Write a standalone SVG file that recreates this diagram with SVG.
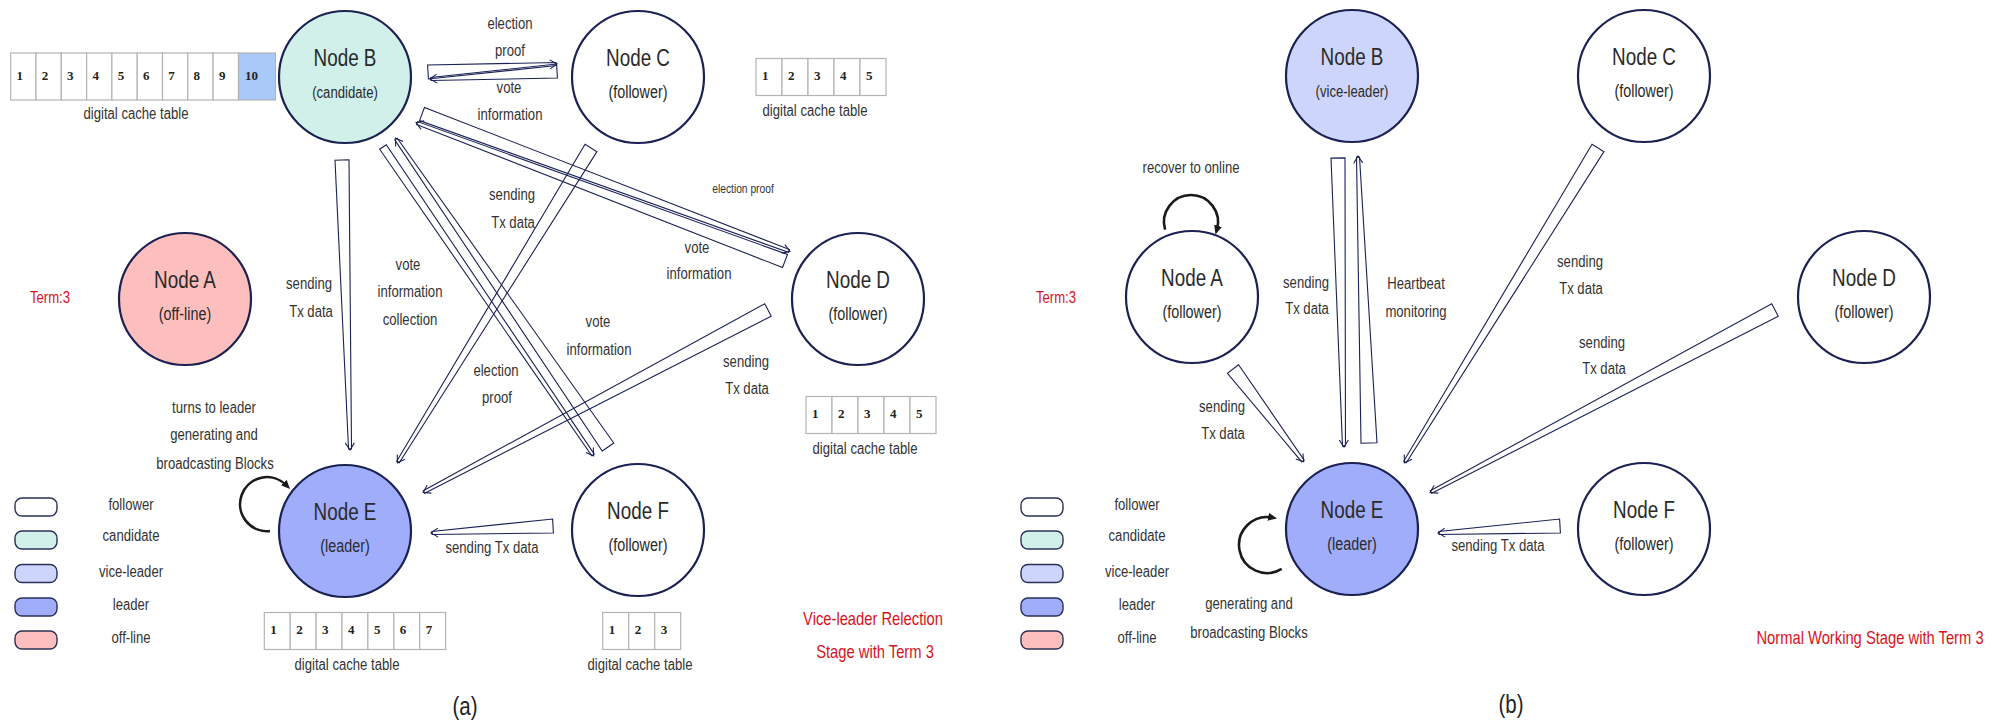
<svg xmlns="http://www.w3.org/2000/svg" width="2011" height="726" viewBox="0 0 2011 726">
<defs>
<style>
.t{font-family:"Liberation Sans",Arial,sans-serif;fill:#333;text-anchor:middle;font-size:16px}
.nm{font-size:23px;fill:#2a2a2a}
.rl{font-size:17.5px;fill:#2a2a2a}
.rs{font-size:16px;fill:#2a2a2a}
.red{fill:#d4141c}
.sm{font-size:12.5px}
.big{font-size:18px}
.cap{font-size:25px;fill:#222}
.num{font-family:"Liberation Serif",serif;font-weight:bold;font-size:13px;fill:#222}
.node{stroke:#1b2152;stroke-width:2.2}
.cell{fill:#fff;stroke:#b4b4b4;stroke-width:1.2}
.leg{stroke:#2a3058;stroke-width:1.4}
.arr polygon,.arr path{fill:none;stroke:#1b2256;stroke-width:1.1;stroke-linejoin:miter}
.loop{fill:none;stroke:#1a1a1a;stroke-width:2.6;marker-end:url(#lh)}
.fol{fill:#fff}.can{fill:#d0f0e9}.vic{fill:#cdd5fd}.lea{fill:#a0adfb}.off{fill:#fdbfbe}
</style>
<marker id="lh" viewBox="0 0 10 10" refX="4" refY="5" markerWidth="10" markerHeight="10" markerUnits="userSpaceOnUse" orient="auto">
<path d="M0,1 L9,5 L0,9 z" fill="#1a1a1a"/>
</marker>
</defs>
<rect width="2011" height="726" fill="#fff"/>

<!-- ================= Panel (a) ================= -->
<g id="connectors-a">
<g class="arr" transform="translate(428,72) rotate(-3.58)"><polygon points="0,-7 0,7 128.2,1.5 128.2,-1.5"/><path d="M122.2,-4.5 L129.2,0 L122.2,4.5"/></g>
<g class="arr" transform="translate(557,71) rotate(176.37)"><polygon points="0,-7 0,7 126.3,1.5 126.3,-1.5"/><path d="M120.3,-4.5 L127.3,0 L120.3,4.5"/></g>
<g class="arr" transform="translate(422,114) rotate(20.47)"><polygon points="0,-7 0,7 391.7,1.5 391.7,-1.5"/><path d="M385.7,-4.5 L392.7,0 L385.7,4.5"/></g>
<g class="arr" transform="translate(785,261) rotate(200.56)"><polygon points="0,-7 0,7 393,1.5 393,-1.5"/><path d="M387,-4.5 L394,0 L387,4.5"/></g>
<g class="arr" transform="translate(342,160) rotate(88.41)"><polygon points="0,-7 0,7 289.1,1.5 289.1,-1.5"/><path d="M283.1,-4.5 L290.1,0 L283.1,4.5"/></g>
<g class="arr" transform="translate(591,148) rotate(121.58)"><polygon points="0,-7 0,7 368.6,1.5 368.6,-1.5"/><path d="M362.6,-4.5 L369.6,0 L362.6,4.5"/></g>
<g class="arr" transform="translate(383,147) rotate(55.71)"><polygon points="0,-4 0,4 372.8,1.5 372.8,-1.5"/><path d="M366.8,-4.5 L373.8,0 L366.8,4.5"/></g>
<g class="arr" transform="translate(608,447) rotate(235.46)"><polygon points="0,-7 0,7 373.9,1.5 373.9,-1.5"/><path d="M367.9,-4.5 L374.9,0 L367.9,4.5"/></g>
<g class="arr" transform="translate(768,310) rotate(152.12)"><polygon points="0,-7 0,7 389.2,1.5 389.2,-1.5"/><path d="M383.2,-4.5 L390.2,0 L383.2,4.5"/></g>
<g class="arr" transform="translate(553,526) rotate(176.69)"><polygon points="0,-7 0,7 121.2,1.5 121.2,-1.5"/><path d="M115.2,-4.5 L122.2,0 L115.2,4.5"/></g>
<path class="loop" d="M270,531 A27 27 0 1 1 286.5,485.4"/>
</g>

<g id="a-node-A"><circle class="node off" cx="185" cy="299" r="66"/><text class="t nm" transform="translate(185 288) scale(0.82 1)">Node A</text><text class="t rl" transform="translate(185 320) scale(0.82 1)">(off-line)</text></g>
<g id="a-node-B"><circle class="node can" cx="345" cy="77" r="66"/><text class="t nm" transform="translate(345 66) scale(0.82 1)">Node B</text><text class="t rs" transform="translate(345 98) scale(0.82 1)">(candidate)</text></g>
<g id="a-node-C"><circle class="node fol" cx="638" cy="77" r="66"/><text class="t nm" transform="translate(638 66) scale(0.82 1)">Node C</text><text class="t rl" transform="translate(638 98) scale(0.82 1)">(follower)</text></g>
<g id="a-node-D"><circle class="node fol" cx="858" cy="299" r="66"/><text class="t nm" transform="translate(858 288) scale(0.82 1)">Node D</text><text class="t rl" transform="translate(858 320) scale(0.82 1)">(follower)</text></g>
<g id="a-node-E"><circle class="node lea" cx="345" cy="531" r="66"/><text class="t nm" transform="translate(345 520) scale(0.82 1)">Node E</text><text class="t rl" transform="translate(345 552) scale(0.82 1)">(leader)</text></g>
<g id="a-node-F"><circle class="node fol" cx="638" cy="530" r="66"/><text class="t nm" transform="translate(638 519) scale(0.82 1)">Node F</text><text class="t rl" transform="translate(638 551) scale(0.82 1)">(follower)</text></g>

<g id="a-labels">
<text class="t" transform="translate(510 28.5) scale(0.82 1)">election</text>
<text class="t" transform="translate(510 55.5) scale(0.82 1)">proof</text>
<text class="t" transform="translate(509 92.5) scale(0.82 1)">vote</text>
<text class="t" transform="translate(510 119.5) scale(0.82 1)">information</text>
<text class="t" transform="translate(512 199.5) scale(0.82 1)">sending</text>
<text class="t" transform="translate(513 227.5) scale(0.82 1)">Tx data</text>
<text class="t sm" transform="translate(743 193) scale(0.82 1)">election proof</text>
<text class="t" transform="translate(697 252.5) scale(0.82 1)">vote</text>
<text class="t" transform="translate(699 278.5) scale(0.82 1)">information</text>
<text class="t" transform="translate(309 288.5) scale(0.82 1)">sending</text>
<text class="t" transform="translate(311 316.5) scale(0.82 1)">Tx data</text>
<text class="t" transform="translate(408 269.5) scale(0.82 1)">vote</text>
<text class="t" transform="translate(410 296.5) scale(0.82 1)">information</text>
<text class="t" transform="translate(410 324.5) scale(0.82 1)">collection</text>
<text class="t" transform="translate(496 375.5) scale(0.82 1)">election</text>
<text class="t" transform="translate(497 402.5) scale(0.82 1)">proof</text>
<text class="t" transform="translate(598 326.5) scale(0.82 1)">vote</text>
<text class="t" transform="translate(599 354.5) scale(0.82 1)">information</text>
<text class="t" transform="translate(746 366.5) scale(0.82 1)">sending</text>
<text class="t" transform="translate(747 393.5) scale(0.82 1)">Tx data</text>
<text class="t" transform="translate(214 412.5) scale(0.82 1)">turns to leader</text>
<text class="t" transform="translate(214 439.5) scale(0.82 1)">generating and</text>
<text class="t" transform="translate(215 468.5) scale(0.82 1)">broadcasting Blocks</text>
<text class="t" transform="translate(492 552.5) scale(0.82 1)">sending Tx data</text>
<text class="t red" transform="translate(50 302.5) scale(0.82 1)">Term:3</text>
<text class="t red big" transform="translate(873 625) scale(0.82 1)">Vice-leader Relection</text>
<text class="t red big" transform="translate(875 658) scale(0.82 1)">Stage with Term 3</text>
<text class="t cap" transform="translate(465 715) scale(0.82 1)">(a)</text>
</g>

<g id="a-table-B">
<rect class="cell" x="10.7" y="53" width="25.3" height="47"/><rect class="cell" x="36" y="53" width="25.3" height="47"/><rect class="cell" x="61.3" y="53" width="25.3" height="47"/><rect class="cell" x="86.6" y="53" width="25.3" height="47"/><rect class="cell" x="111.9" y="53" width="25.3" height="47"/><rect class="cell" x="137.2" y="53" width="25.3" height="47"/><rect class="cell" x="162.5" y="53" width="25.3" height="47"/><rect class="cell" x="187.8" y="53" width="25.3" height="47"/><rect class="cell" x="213.1" y="53" width="25.4" height="47"/><rect class="cell" x="238.5" y="53" width="37" height="47" style="fill:#a9c9f8"/>
<text class="num" x="16.5" y="80">1</text><text class="num" x="41.8" y="80">2</text><text class="num" x="67.1" y="80">3</text><text class="num" x="92.4" y="80">4</text><text class="num" x="117.7" y="80">5</text><text class="num" x="143" y="80">6</text><text class="num" x="168.3" y="80">7</text><text class="num" x="193.6" y="80">8</text><text class="num" x="218.9" y="80">9</text><text class="num" x="245" y="80">10</text>
<text class="t" transform="translate(136 118.5) scale(0.82 1)">digital cache table</text>
</g>
<g id="a-table-C">
<rect class="cell" x="756" y="58.5" width="26" height="37"/><rect class="cell" x="782" y="58.5" width="26" height="37"/><rect class="cell" x="808" y="58.5" width="26" height="37"/><rect class="cell" x="834" y="58.5" width="26" height="37"/><rect class="cell" x="860" y="58.5" width="26" height="37"/>
<text class="num" x="762" y="80">1</text><text class="num" x="788" y="80">2</text><text class="num" x="814" y="80">3</text><text class="num" x="840" y="80">4</text><text class="num" x="866" y="80">5</text>
<text class="t" transform="translate(815 115.5) scale(0.82 1)">digital cache table</text>
</g>
<g id="a-table-D">
<rect class="cell" x="806" y="396.5" width="26" height="37"/><rect class="cell" x="832" y="396.5" width="26" height="37"/><rect class="cell" x="858" y="396.5" width="26" height="37"/><rect class="cell" x="884" y="396.5" width="26" height="37"/><rect class="cell" x="910" y="396.5" width="26" height="37"/>
<text class="num" x="812" y="418">1</text><text class="num" x="838" y="418">2</text><text class="num" x="864" y="418">3</text><text class="num" x="890" y="418">4</text><text class="num" x="916" y="418">5</text>
<text class="t" transform="translate(865 453.5) scale(0.82 1)">digital cache table</text>
</g>
<g id="a-table-E">
<rect class="cell" x="264.3" y="612.5" width="25.9" height="37"/><rect class="cell" x="290.2" y="612.5" width="25.9" height="37"/><rect class="cell" x="316.1" y="612.5" width="25.9" height="37"/><rect class="cell" x="342" y="612.5" width="25.9" height="37"/><rect class="cell" x="367.9" y="612.5" width="25.9" height="37"/><rect class="cell" x="393.8" y="612.5" width="25.9" height="37"/><rect class="cell" x="419.7" y="612.5" width="25.9" height="37"/>
<text class="num" x="270.3" y="634">1</text><text class="num" x="296.2" y="634">2</text><text class="num" x="322.1" y="634">3</text><text class="num" x="348" y="634">4</text><text class="num" x="373.9" y="634">5</text><text class="num" x="399.8" y="634">6</text><text class="num" x="425.7" y="634">7</text>
<text class="t" transform="translate(347 669.5) scale(0.82 1)">digital cache table</text>
</g>
<g id="a-table-F">
<rect class="cell" x="602.7" y="612.5" width="26" height="37"/><rect class="cell" x="628.7" y="612.5" width="26" height="37"/><rect class="cell" x="654.7" y="612.5" width="26" height="37"/>
<text class="num" x="608.7" y="634">1</text><text class="num" x="634.7" y="634">2</text><text class="num" x="660.7" y="634">3</text>
<text class="t" transform="translate(640 669.5) scale(0.82 1)">digital cache table</text>
</g>
<g id="a-legend">
<rect class="leg fol" x="15" y="498" width="42" height="18" rx="7"/>
<rect class="leg can" x="15" y="531" width="42" height="18" rx="7"/>
<rect class="leg vic" x="15" y="564.5" width="42" height="18" rx="7"/>
<rect class="leg lea" x="15" y="598" width="42" height="18" rx="7"/>
<rect class="leg off" x="15" y="631" width="42" height="18" rx="7"/>
<text class="t" transform="translate(131 509.5) scale(0.82 1)">follower</text>
<text class="t" transform="translate(131 540.5) scale(0.82 1)">candidate</text>
<text class="t" transform="translate(131 576.5) scale(0.82 1)">vice-leader</text>
<text class="t" transform="translate(131 609.5) scale(0.82 1)">leader</text>
<text class="t" transform="translate(131 642.5) scale(0.82 1)">off-line</text>
</g>

<!-- ================= Panel (b) ================= -->
<g id="connectors-b">
<g class="arr" transform="translate(1338,158) rotate(88.81)"><polygon points="0,-7 0,7 288.1,1.5 288.1,-1.5"/><path d="M282.1,-4.5 L289.1,0 L282.1,4.5"/></g>
<g class="arr" transform="translate(1369,443) rotate(267.8)"><polygon points="0,-8 0,8 286.2,1.5 286.2,-1.5"/><path d="M280.2,-4.5 L287.2,0 L280.2,4.5"/></g>
<g class="arr" transform="translate(1598,148) rotate(121.58)"><polygon points="0,-7 0,7 368.6,1.5 368.6,-1.5"/><path d="M362.6,-4.5 L369.6,0 L362.6,4.5"/></g>
<g class="arr" transform="translate(1775,310) rotate(152.12)"><polygon points="0,-7 0,7 389.2,1.5 389.2,-1.5"/><path d="M383.2,-4.5 L390.2,0 L383.2,4.5"/></g>
<g class="arr" transform="translate(1560,526) rotate(176.69)"><polygon points="0,-7 0,7 121.2,1.5 121.2,-1.5"/><path d="M115.2,-4.5 L122.2,0 L115.2,4.5"/></g>
<g class="arr" transform="translate(1233,369) rotate(52.73)"><polygon points="0,-7 0,7 115.6,1.5 115.6,-1.5"/><path d="M109.6,-4.5 L116.6,0 L109.6,4.5"/></g>
<path class="loop" d="M1165.1,229.7 A27 27 0 1 1 1216.9,229.7"/>
<path class="loop" d="M1281.7,568.9 A28 28 0 1 1 1272.1,517.5"/>
</g>

<g id="b-node-A"><circle class="node fol" cx="1192" cy="297" r="66"/><text class="t nm" transform="translate(1192 286) scale(0.82 1)">Node A</text><text class="t rl" transform="translate(1192 318) scale(0.82 1)">(follower)</text></g>
<g id="b-node-B"><circle class="node vic" cx="1352" cy="76" r="66"/><text class="t nm" transform="translate(1352 65) scale(0.82 1)">Node B</text><text class="t rs" transform="translate(1352 97) scale(0.82 1)">(vice-leader)</text></g>
<g id="b-node-C"><circle class="node fol" cx="1644" cy="76" r="66"/><text class="t nm" transform="translate(1644 65) scale(0.82 1)">Node C</text><text class="t rl" transform="translate(1644 97) scale(0.82 1)">(follower)</text></g>
<g id="b-node-D"><circle class="node fol" cx="1864" cy="297" r="66"/><text class="t nm" transform="translate(1864 286) scale(0.82 1)">Node D</text><text class="t rl" transform="translate(1864 318) scale(0.82 1)">(follower)</text></g>
<g id="b-node-E"><circle class="node lea" cx="1352" cy="529" r="66"/><text class="t nm" transform="translate(1352 518) scale(0.82 1)">Node E</text><text class="t rl" transform="translate(1352 550) scale(0.82 1)">(leader)</text></g>
<g id="b-node-F"><circle class="node fol" cx="1644" cy="529" r="66"/><text class="t nm" transform="translate(1644 518) scale(0.82 1)">Node F</text><text class="t rl" transform="translate(1644 550) scale(0.82 1)">(follower)</text></g>

<g id="b-labels">
<text class="t" transform="translate(1191 172.5) scale(0.82 1)">recover to online</text>
<text class="t" transform="translate(1306 287.5) scale(0.82 1)">sending</text>
<text class="t" transform="translate(1307 313.5) scale(0.82 1)">Tx data</text>
<text class="t" transform="translate(1416 288.5) scale(0.82 1)">Heartbeat</text>
<text class="t" transform="translate(1416 316.5) scale(0.82 1)">monitoring</text>
<text class="t" transform="translate(1580 266.5) scale(0.82 1)">sending</text>
<text class="t" transform="translate(1581 293.5) scale(0.82 1)">Tx data</text>
<text class="t" transform="translate(1602 347.5) scale(0.82 1)">sending</text>
<text class="t" transform="translate(1604 373.5) scale(0.82 1)">Tx data</text>
<text class="t" transform="translate(1222 411.5) scale(0.82 1)">sending</text>
<text class="t" transform="translate(1223 438.5) scale(0.82 1)">Tx data</text>
<text class="t" transform="translate(1498 550.5) scale(0.82 1)">sending Tx data</text>
<text class="t" transform="translate(1249 608.5) scale(0.82 1)">generating and</text>
<text class="t" transform="translate(1249 637.5) scale(0.82 1)">broadcasting Blocks</text>
<text class="t red" transform="translate(1056 302.5) scale(0.82 1)">Term:3</text>
<text class="t red big" transform="translate(1870 644) scale(0.82 1)">Normal Working Stage with Term 3</text>
<text class="t cap" transform="translate(1511 713) scale(0.82 1)">(b)</text>
</g>
<g id="b-legend">
<rect class="leg fol" x="1021" y="498" width="42" height="18" rx="7"/>
<rect class="leg can" x="1021" y="531" width="42" height="18" rx="7"/>
<rect class="leg vic" x="1021" y="564.5" width="42" height="18" rx="7"/>
<rect class="leg lea" x="1021" y="598" width="42" height="18" rx="7"/>
<rect class="leg off" x="1021" y="631" width="42" height="18" rx="7"/>
<text class="t" transform="translate(1137 509.5) scale(0.82 1)">follower</text>
<text class="t" transform="translate(1137 540.5) scale(0.82 1)">candidate</text>
<text class="t" transform="translate(1137 576.5) scale(0.82 1)">vice-leader</text>
<text class="t" transform="translate(1137 609.5) scale(0.82 1)">leader</text>
<text class="t" transform="translate(1137 642.5) scale(0.82 1)">off-line</text>
</g>
</svg>
